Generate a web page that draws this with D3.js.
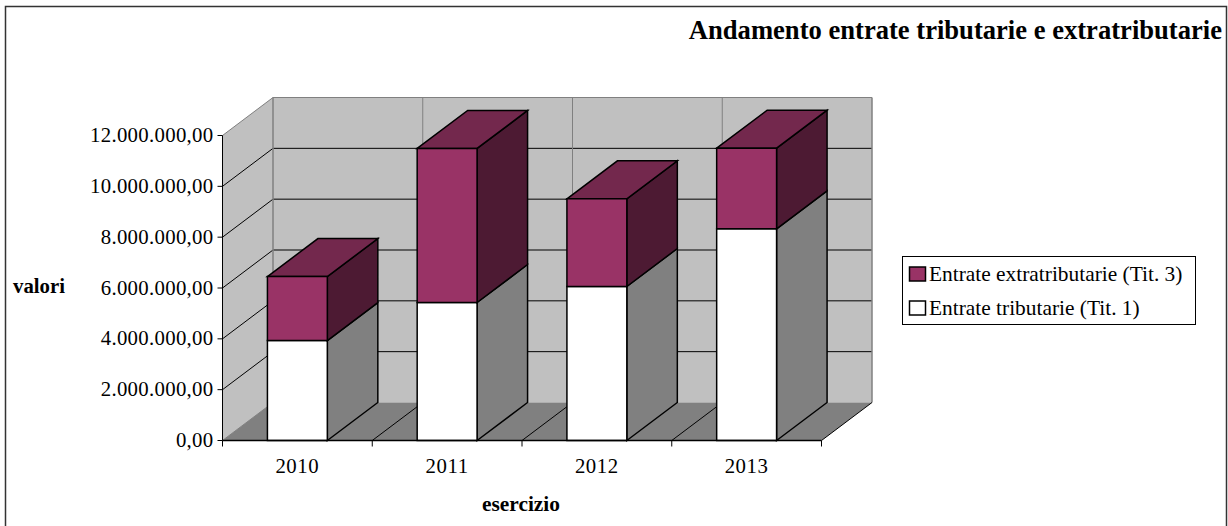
<!DOCTYPE html>
<html><head><meta charset="utf-8">
<script src="https://cdn.jsdelivr.net/npm/d3@7/dist/d3.min.js"></script>
<style>html,body{margin:0;padding:0;background:#fff}svg{display:block}text{font-family:"Liberation Serif",serif;fill:#000}</style>
</head><body><svg id="c" width="1228" height="526"></svg>
<script>
const categories = ["2010","2011","2012","2013"];
const tributarie = [3930000,5430000,6060000,8330000];
const extratributarie = [2520000,6060000,3450000,3170000];
const yTicks = [0,2000000,4000000,6000000,8000000,10000000,12000000];
const yTickLabels = ["0,00","2.000.000,00","4.000.000,00","6.000.000,00","8.000.000,00","10.000.000,00","12.000.000,00"];
const seriesNames = ["Entrate extratributarie (Tit. 3)","Entrate tributarie (Tit. 1)"];

const svg = d3.select("#c");
const x = d3.scaleBand().domain(categories).range([222.5,821.5]).paddingInner(0.6).paddingOuter(0.3);
const xEdge = d3.scaleLinear().domain([0,4]).range([222.5,821.5]);
const y = d3.scaleLinear().domain([0,12000000]).range([440.5,135.5]);
const dx = 50.5, dy = -38;
const poly = d3.line();
const P = (pts,fill,stroke,sw) => svg.append("path").attr("d",poly(pts)+"Z").attr("fill",fill)
  .attr("stroke",stroke||"none").attr("stroke-width",sw||1).attr("stroke-linejoin","miter");
const L = (a,b,stroke,sw) => svg.append("line").attr("x1",a[0]).attr("y1",a[1]).attr("x2",b[0]).attr("y2",b[1])
  .attr("stroke",stroke).attr("stroke-width",sw||1);

// frame (open at the bottom)
svg.append("path").attr("d","M5.5,526V6.5H1226.5V526").attr("fill","none").attr("stroke","#333").attr("stroke-width",1.5);

// walls & floor
const y0=y(0), yT=y(12000000), xL=xEdge(0), xR=xEdge(4);
P([[xL+dx,yT+dy],[xR+dx,yT+dy],[xR+dx,y0+dy],[xL+dx,y0+dy]],"#c0c0c0");
P([[xL,yT],[xL+dx,yT+dy],[xL+dx,y0+dy],[xL,y0]],"#c0c0c0");
P([[xL,y0],[xL+dx,y0+dy],[xR+dx,y0+dy],[xR,y0]],"#808080");

// gridlines
yTicks.slice(1).forEach(t=>{
  const top = t===12000000;
  L([xL,y(t)],[xL+dx,y(t)+dy], top?"#808080":"#000");
  L([xL+dx,y(t)+dy],[xR+dx,y(t)+dy], top?"#808080":"#000");
});
d3.range(1,4).forEach(i=>{
  L([xEdge(i)+dx,yT+dy],[xEdge(i)+dx,y0+dy],"#808080");
  L([xEdge(i),y0],[xEdge(i)+dx,y0+dy],"#000");
});
L([xL+dx,yT+dy],[xL+dx,y0+dy],"#808080",1.5);
L([xR+dx,yT+dy],[xR+dx,y0+dy],"#808080",1.5);
L([xL,y0],[xL+dx,y0+dy],"#808080");
L([xR,y0],[xR+dx,y0+dy],"#000");

// bars
const barSeg=(cx,w,a,b,front,side,top)=>{
  P([[cx+w,y(a)],[cx+w+dx,y(a)+dy],[cx+w+dx,y(b)+dy],[cx+w,y(b)]],side,"#000",1.5);
  if(top) P([[cx,y(b)],[cx+dx,y(b)+dy],[cx+w+dx,y(b)+dy],[cx+w,y(b)]],top,"#000",1.5);
  P([[cx,y(a)],[cx+w,y(a)],[cx+w,y(b)],[cx,y(b)]],front,"#000",1.5);
};
categories.forEach((c,i)=>{
  const bx=x(c), w=x.bandwidth(), t=tributarie[i], tot=t+extratributarie[i];
  barSeg(bx,w,0,t,"#ffffff","#808080",null);
  barSeg(bx,w,t,tot,"#993366","#4d1a33","#73284d");
});

// axes
L([xL,yT],[xL,y0],"#000");
L([xL,y0],[xR,y0],"#000",1.5);
yTicks.forEach((t,i)=>{
  L([xL-5,y(t)],[xL,y(t)],"#000");
  svg.append("text").attr("x",xL-9).attr("y",y(t)+6.5).attr("text-anchor","end").attr("font-size",20.8).attr("letter-spacing",0.3).text(yTickLabels[i]);
});
d3.range(0,5).forEach(i=>L([xEdge(i),y0],[xEdge(i),y0+6],"#000"));
categories.forEach(c=>svg.append("text").attr("x",x(c)+x.bandwidth()/2).attr("y",473).attr("text-anchor","middle").attr("font-size",20.8).attr("letter-spacing",0.6).text(c));

// titles
svg.append("text").attr("x",1222).attr("y",38.5).attr("text-anchor","end").attr("font-size",26.6).attr("font-weight","bold").text("Andamento entrate tributarie e extratributarie");
svg.append("text").attr("x",13).attr("y",292.5).attr("font-size",20.8).attr("font-weight","bold").text("valori");
svg.append("text").attr("x",482).attr("y",511).attr("font-size",21.4).attr("font-weight","bold").text("esercizio");

// legend
svg.append("rect").attr("x",902.5).attr("y",256.5).attr("width",293).attr("height",68).attr("fill","#fff").attr("stroke","#000");
[["#993366",0],["#ffffff",1]].forEach(([f,i])=>{
  svg.append("rect").attr("x",909.5).attr("y",267+i*34).attr("width",16).attr("height",14).attr("fill",f).attr("stroke","#000").attr("stroke-width",1.5);
  svg.append("text").attr("x",929).attr("y",281+i*34).attr("font-size",21.4).text(seriesNames[i]);
});
</script></body></html>
